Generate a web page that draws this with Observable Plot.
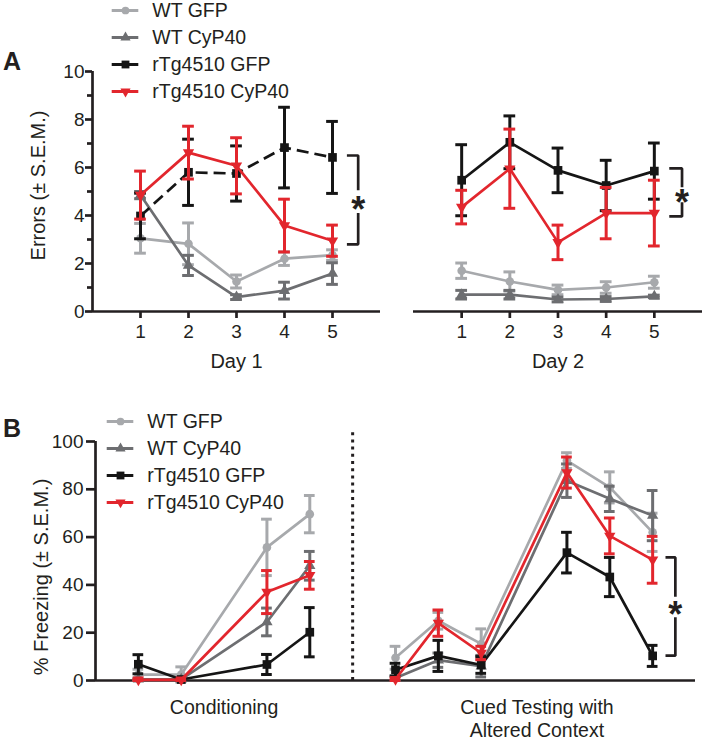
<!DOCTYPE html>
<html>
<head>
<meta charset="utf-8">
<script src="https://cdn.jsdelivr.net/npm/d3@7"></script>
<script src="https://cdn.jsdelivr.net/npm/@observablehq/plot@0.6"></script>
<style>
  body { margin: 0; background: #fff; }
  #root { position: relative; width: 705px; height: 739px; font-family: "Liberation Sans", Arial, sans-serif; color: #231f20; }
  #root > * { position: absolute; }
  .letter { font-weight: bold; font-size: 25px; line-height: 25px; }
</style>
</head>
<body>
<div id="root"></div>
<script>
// ---------- series definitions ----------
const groups = ["WT GFP", "WT CyP40", "rTg4510 GFP", "rTg4510 CyP40"];
const colors = ["#a7a9ac", "#6d6e71", "#151515", "#e2262d"];
const symbols = ["circle", "triangle", "square", "triangle"];
const rotations = [0, 0, 0, 180];
const dotRadii = [4.3, 4.2, 4.9, 4.2];

// ---------- Panel A: trials ----------
const trials = [1, 2, 3, 4, 5];
const yTicksA = [0, 2, 4, 6, 8, 10];
const yMinorA = [1, 3, 5, 7, 9];

// Day 1 means / SEM (order: WT GFP, WT CyP40, rTg4510 GFP, rTg4510 CyP40)
const day1Means = [
  [3.05, 2.82, 1.25, 2.2, 2.35],
  [4.85, 1.92, 0.6, 0.87, 1.58],
  [3.98, 5.8, 5.75, 6.83, 6.42],
  [4.85, 6.62, 6.07, 3.58, 2.95]
];
const day1Sem = [
  [0.62, 0.87, 0.27, 0.28, 0.22],
  [0.15, 0.42, 0.1, 0.35, 0.45],
  [0.95, 1.38, 1.15, 1.68, 1.5],
  [1.0, 1.1, 1.17, 1.1, 0.65]
];
// Day 2
const day2Means = [
  [1.7, 1.25, 0.9, 1.0, 1.22],
  [0.7, 0.7, 0.5, 0.52, 0.63],
  [5.47, 7.05, 5.88, 5.25, 5.85],
  [4.35, 5.95, 2.88, 4.1, 4.1]
];
const day2Sem = [
  [0.32, 0.4, 0.2, 0.24, 0.25],
  [0.18, 0.18, 0.1, 0.1, 0.05],
  [1.48, 1.1, 0.93, 1.05, 1.17],
  [0.7, 1.65, 0.72, 1.07, 1.37]
];

// ---------- Panel B: freezing ----------
const bPositions = [1, 2, 4, 5, 7, 8, 9, 11, 12, 13];
const bPhase = ["cond", "cond", "cond", "cond", "cued", "cued", "cued", "cued", "cued", "cued"];
const yTicksB = [0, 20, 40, 60, 80, 100];
const bMeans = [
  [2.5, 2.5, 55.7, 69.6, 9.5, 25, 15.3, 92, 80.8, 62],
  [0.5, 0.5, 24.5, 48, 1.0, 8.5, 6, 83.6, 76, 69],
  [6.8, 0.4, 6.7, 20.2, 4.5, 10.3, 6.5, 53.5, 43.3, 10.3],
  [0.3, 0.3, 37, 44, 0.5, 24, 11.5, 87, 60.5, 50.5]
];
const bSem = [
  [2.2, 3.2, 11.8, 7.8, 4.8, 3.5, 6.3, 3.3, 6.5, 8],
  [0.5, 0.5, 5.8, 6, 1.0, 3, 4.5, 7, 5.3, 10.5],
  [4.0, 0.4, 4.2, 10.3, 2.7, 6.5, 3.5, 8.5, 8.2, 4.4],
  [0.3, 0.3, 9, 5.8, 0.5, 5.5, 2.8, 6.5, 7.5, 9.8]
];
const bGroupLabels = [
  {x: 3, label: "Conditioning"},
  {x: 10.3, label: "Cued Testing with\nAltered Context"}
];
const bDivider = [6];

// significance brackets (data units of each panel)
const sigDay1 = {xTick: 5.3, x: 5.535, top: 6.5, bottom: 2.8, gapTop: 5.05, gapBottom: 4.1, star: 4.6};
const sigDay2 = {xTick: 5.31, x: 5.575, top: 5.96, bottom: 3.96, gapTop: 5.18, gapBottom: 4.55, star: 4.88};
const sigB = {xTick: 13.3, x: 13.53, top: 51.5, bottom: 10.4, gapTop: 35, gapBottom: 26.5, star: 30.8};

// ---------- helpers ----------
const ink = "#231f20";
const baseStyle = {background: "transparent", fontFamily: "Liberation Sans, Arial, sans-serif", fontSize: "19px", color: ink, overflow: "visible"};

function seriesMarks(xs, means, sems, g, capW, dash, phases) {
  const rows = xs.map((x, j) => ({x, m: means[j], s: sems[j], seg: phases ? phases[j] : "all"}));
  const c = colors[g];
  return [
    Plot.ruleX(rows, {x: "x", y1: d => d.m - d.s, y2: d => d.m + d.s, stroke: c, strokeWidth: 3}),
    Plot.ruleY(rows, {y: d => d.m + d.s, x1: d => d.x - capW, x2: d => d.x + capW, stroke: c, strokeWidth: 3}),
    Plot.ruleY(rows, {y: d => d.m - d.s, x1: d => d.x - capW, x2: d => d.x + capW, stroke: c, strokeWidth: 3}),
    Plot.line(rows, {x: "x", y: "m", z: "seg", stroke: c, strokeWidth: 2.7, strokeDasharray: dash, strokeLinecap: "butt"}),
    Plot.dot(rows, {x: "x", y: "m", symbol: symbols[g], fill: c, r: dotRadii[g], rotate: rotations[g]})
  ];
}

function bracketMarks(b) {
  const pts = [
    {x: b.xTick, y: b.top, k: 0}, {x: b.x, y: b.top, k: 0}, {x: b.x, y: b.gapTop, k: 0},
    {x: b.x, y: b.gapBottom, k: 1}, {x: b.x, y: b.bottom, k: 1}, {x: b.xTick, y: b.bottom, k: 1}
  ];
  return [
    Plot.line(pts, {x: "x", y: "y", z: "k", stroke: ink, strokeWidth: 2.7, strokeLinejoin: "miter", strokeLinecap: "butt"}),
    Plot.text([b], {x: "x", y: "star", text: () => "*", fontSize: 36, fontWeight: "bold", fill: ink, dy: 9})
  ];
}

function legendPlot(rowRange) {
  const marks = [];
  groups.forEach((name, g) => {
    marks.push(Plot.ruleY([name], {y: d => d, x1: 0, x2: 1, stroke: colors[g], strokeWidth: 3}));
    marks.push(Plot.dot([name], {x: 0.5, y: d => d, symbol: symbols[g], fill: colors[g], r: dotRadii[g] * 0.9, rotate: rotations[g]}));
    marks.push(Plot.text([name], {x: 1, y: d => d, text: d => d, textAnchor: "start", dx: 13.5, fontSize: 19.5, fill: ink}));
  });
  return Plot.plot({
    width: 230, height: rowRange[1] + 15,
    margin: 0,
    x: {domain: [0, 1], range: [11.7, 38.3], axis: null},
    y: {type: "point", domain: groups, range: rowRange, padding: 0, axis: null},
    style: baseStyle,
    marks
  });
}

function yTitle(text, dy) {
  return Plot.text([text], {frameAnchor: "left", textAnchor: "middle", lineAnchor: "middle", rotate: -90, dx: -54, dy, fontSize: 20, text: d => d, fill: ink});
}

function place(el, left, top) {
  el.style.position = "absolute";
  el.style.left = left + "px";
  el.style.top = top + "px";
  document.getElementById("root").appendChild(el);
}

// ---------- Panel A, Day 1 ----------
const a1Marks = [
  Plot.axisY({ticks: yTicksA, tickSize: 7, tickPadding: 1, tickFormat: "d", strokeWidth: 2.7, fontSize: 19, label: null}),
  Plot.axisY({ticks: yMinorA, tickSize: 5, tickFormat: () => "", strokeWidth: 2.7, label: null}),
  Plot.ruleX([0], {y1: 0, y2: 10, strokeWidth: 2.7, stroke: ink}),
  Plot.ruleY([0], {x1: 0, x2: 6, strokeWidth: 2.7, stroke: ink}),
  Plot.axisX({ticks: trials, tickSize: 7, tickPadding: 6, tickFormat: "d", strokeWidth: 2.7, fontSize: 19, label: null}),
  Plot.text(["Day 1"], {frameAnchor: "bottom", lineAnchor: "middle", dy: 50, fontSize: 20, text: d => d, fill: ink}),
  yTitle("Errors (± S.E.M.)", -6)
];
groups.forEach((_, g) => a1Marks.push(...seriesMarks(trials, day1Means[g], day1Sem[g], g, 0.122, g === 2 ? "12,6" : undefined)));
a1Marks.push(...bracketMarks(sigDay1));

const a1 = Plot.plot({
  width: 385, height: 375, marginLeft: 92, marginRight: 5, marginTop: 71, marginBottom: 64,
  x: {domain: [0, 6], axis: null}, y: {domain: [0, 10], axis: null},
  style: baseStyle, marks: a1Marks
});
place(a1, 0, 0);

// ---------- Panel A, Day 2 ----------
const a2Marks = [
  Plot.ruleY([0], {x1: 0, x2: 6, strokeWidth: 2.7, stroke: ink}),
  Plot.axisX({ticks: trials, tickSize: 7, tickPadding: 6, tickFormat: "d", strokeWidth: 2.7, fontSize: 19, label: null}),
  Plot.text(["Day 2"], {frameAnchor: "bottom", lineAnchor: "middle", dy: 50, fontSize: 20, text: d => d, fill: ink})
];
groups.forEach((_, g) => a2Marks.push(...seriesMarks(trials, day2Means[g], day2Sem[g], g, 0.122)));
a2Marks.push(...bracketMarks(sigDay2));

const a2 = Plot.plot({
  width: 320, height: 375, marginLeft: 28, marginRight: 3, marginTop: 71, marginBottom: 64,
  x: {domain: [0, 6], axis: null}, y: {domain: [0, 10], axis: null},
  style: baseStyle, marks: a2Marks
});
place(a2, 385, 0);

// ---------- Panel B ----------
const bMarks = [
  Plot.axisY({ticks: yTicksB, tickSize: 9, tickPadding: 3, tickFormat: "d", strokeWidth: 2.7, fontSize: 19, label: null}),
  Plot.ruleX([0], {y1: 0, y2: 100, strokeWidth: 2.7, stroke: ink}),
  Plot.ruleY([0], {x1: 0, x2: 14, strokeWidth: 2.7, stroke: ink}),
  Plot.ruleX(bDivider, {y1: 0, y2: 104, strokeWidth: 3, stroke: ink, strokeDasharray: "3,4.2"}),
  Plot.text(bGroupLabels, {x: "x", text: "label", frameAnchor: "bottom", lineAnchor: "top", dy: 17, lineHeight: 1.17, fontSize: 19.5, fill: ink}),
  yTitle("% Freezing (± S.E.M.)", 16)
];
groups.forEach((_, g) => bMarks.push(...seriesMarks(bPositions, bMeans[g], bSem[g], g, 0.125, undefined, bPhase)));
bMarks.push(...bracketMarks(sigB));

const bPlot = Plot.plot({
  width: 705, height: 379, marginLeft: 95, marginRight: 10, marginTop: 81, marginBottom: 59,
  x: {domain: [0, 14], axis: null}, y: {domain: [0, 100], axis: null},
  style: baseStyle, marks: bMarks
});
place(bPlot, 0, 360);

// ---------- Legends ----------
place(legendPlot([10, 91]), 100, 0);
place(legendPlot([20, 102.7]), 95, 400);

// ---------- Panel letters ----------
const la = document.createElement("div"); la.className = "letter"; la.textContent = "A"; place(la, 3, 49);
const lb = document.createElement("div"); lb.className = "letter"; lb.textContent = "B"; place(lb, 3, 416);
</script>
</body>
</html>
